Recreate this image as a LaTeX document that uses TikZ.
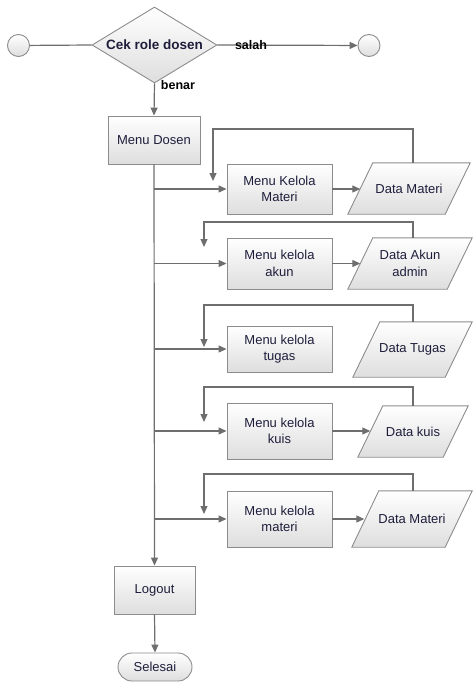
\documentclass[tikz,border=0pt]{standalone}
\usepackage{fontspec}
\setmainfont{Liberation Sans}
\usetikzlibrary{shapes.geometric,arrows.meta,calc,backgrounds}
\definecolor{linegray}{HTML}{6E6E6E}
\definecolor{edgegray}{HTML}{8C8C8C}
\definecolor{ink}{HTML}{1E1E3C}
\begin{document}
\begin{tikzpicture}[x=1pt,y=-1pt,
  every node/.style={font=\fontsize{13}{16.5}\selectfont, text=ink, align=center},
  shadebox/.style={draw=edgegray, line width=0.9pt, top color=white, bottom color=black!13},
  proc/.style={shadebox, rectangle, inner sep=0pt},
  data/.style={rectangle, inner sep=0pt},
  term/.style={shadebox, circle, minimum size=22pt, inner sep=0pt},
  flow/.style={draw=linegray, line width=1.2pt},
  arr/.style={flow, -{Triangle[length=8pt,width=7pt]}},
  lbl/.style={font=\bfseries\fontsize{12.5}{14}\selectfont, text=black}
]
\useasboundingbox (0,0) rectangle (472,682);

% start, decision, end
\node[term] (start) at (18.5,45.5) {};
\node[shadebox, diamond, minimum width=125pt, minimum height=76pt, shape aspect=1.64,
  inner sep=0pt, font=\bfseries\fontsize{13.5}{15}\selectfont] (cek) at (154.5,45) {Cek role dosen};
\node[term] (stop) at (369,45.5) {};

% main menu and its sub-menus
\node[proc, minimum width=92pt, minimum height=48pt] (dosen) at (154,140) {Menu Dosen};
\node[proc, minimum width=105pt, minimum height=50pt] (m1) at (279.5,189) {Menu Kelola\\Materi};
\node[proc, minimum width=105pt, minimum height=51pt] (m2) at (279.5,263.5) {Menu kelola\\akun};
\node[proc, minimum width=105pt, minimum height=46pt] (m3) at (279.5,349) {Menu kelola\\tugas};
\node[proc, minimum width=105pt, minimum height=56pt] (m4) at (279.5,431) {Menu kelola\\kuis};
\node[proc, minimum width=105pt, minimum height=56pt] (m5) at (279.5,519) {Menu kelola\\materi};

% data stores (outline drawn below as parallelograms)
\node[data, minimum width=122pt, minimum height=51pt] (d1) at (409,188.5) {Data Materi};
\node[data, minimum width=124pt, minimum height=51pt] (d2) at (410,263.5) {Data Akun\\admin};
\node[data, minimum width=119pt, minimum height=55pt] (d3) at (412.5,349.5) {Data Tugas};
\node[data, minimum width=110pt, minimum height=51pt] (d4) at (413,431.5) {Data kuis};
\node[data, minimum width=120pt, minimum height=56pt] (d5) at (412,519) {Data Materi};

\begin{scope}[on background layer]
  \foreach \d/\s in {d1/25, d2/25, d3/27, d4/25, d5/27} {
    \path[shadebox] (\d.south west) -- ($(\d.north west)+(\s,0)$) -- (\d.north east)
      -- ($(\d.south east)-(\s,0)$) -- cycle;
  }
\end{scope}

% end of session
\node[proc, minimum width=81pt, minimum height=48pt] (logout) at (154.5,590) {Logout};
\node[proc, rounded corners=14pt, minimum width=74pt, minimum height=28pt] (selesai) at (155,667) {Selesai};

% return paths
\coordinate (r1) at (413,129); \coordinate (c1) at (213,181);
\coordinate (r2) at (413,222); \coordinate (c2) at (204,247);
\coordinate (r3) at (413,305); \coordinate (c3) at (204,347);
\coordinate (r4) at (413,387); \coordinate (c4) at (204,422);
\coordinate (r5) at (413,474); \coordinate (c5) at (204,514);

% connectors
\draw[flow] (start) -- (cek.west);
\draw[arr] (cek.east) -- (stop);
\draw[arr] (cek.south) -- (dosen.north);
\draw[arr] (dosen.south) -- (logout.north);
\draw[arr] (logout.south) -- (selesai.north);
\foreach \i in {1,...,5} {
  \draw[arr] (dosen.south |- m\i.west) -- (m\i.west);
  \draw[arr] (r\i |- d\i.north) -- (r\i) -| (c\i);
}
\foreach \i in {1,2,4,5} {
  \draw[arr] (m\i.east) -- ($(m\i.east -| d\i.west)+(12.5,0)$);
}

\node[lbl] (salah) at (251,45) {salah};
\node[lbl] (benar) at (178,85) {benar};
\end{tikzpicture}
\end{document}
